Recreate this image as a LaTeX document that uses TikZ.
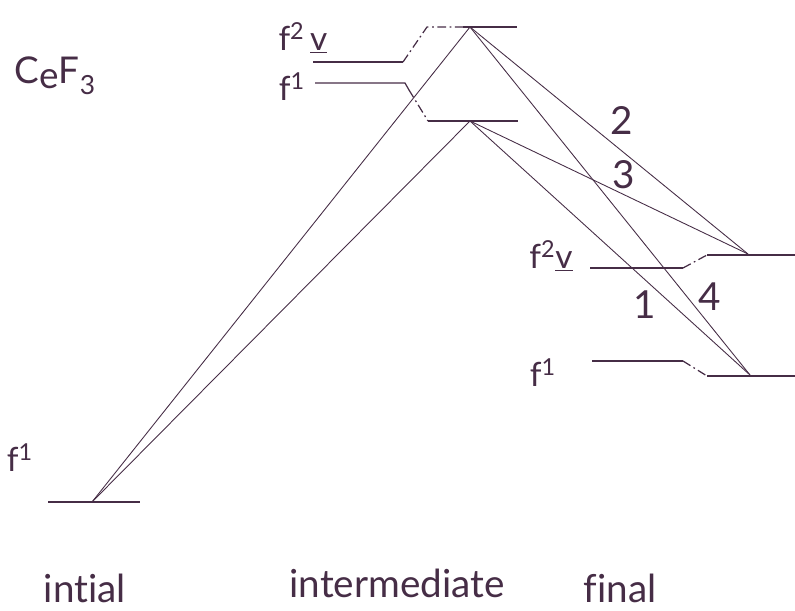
\documentclass[tikz,border=0pt]{standalone}
\usepackage{fontspec}
\setmainfont{Lato}[Ligatures=NoCommon]
\definecolor{ink}{RGB}{70,45,70}
\begin{document}
\begin{tikzpicture}[x=0.02cm,y=-0.02cm,
  lvl/.style={draw=ink,line width=0.7pt},
  shiftln/.style={draw=ink,line width=0.7pt,dash pattern=on 5pt off 2pt on 1pt off 2pt},
  tr/.style={draw=ink,line width=0.5pt},
  lab/.style={text=ink,font=\fontsize{19}{21}\selectfont,inner sep=0pt},
  num/.style={text=ink,font=\fontsize{22}{24}\selectfont,inner sep=0pt}]
\useasboundingbox (0,0) rectangle (795,611);
% level points
\coordinate (init) at (92,502);
\coordinate (intTop) at (470,27);
\coordinate (intLow) at (470,121);
\coordinate (finUp) at (748,254);
\coordinate (finLow) at (750,375);
% initial level
\draw[lvl] (48,502) -- (140,502);
% intermediate levels
\draw[lvl] (313,62) -- (403,62);
\draw[shiftln] (403,62) -- (427,27) -- (463,27);
\draw[lvl] (463,27) -- (517,27);
\draw[lvl] (315,83) -- (405,83) -- (409,90);
\draw[shiftln] (409,90) -- (428,121);
\draw[lvl] (428,121) -- (518,121);
% final levels
\draw[lvl] (590,268) -- (683,268);
\draw[shiftln] (683,268) -- (707,255);
\draw[lvl] (707,255) -- (795,255);
\draw[lvl] (592,361) -- (683,361);
\draw[shiftln] (683,361) -- (707,376);
\draw[lvl] (707,376) -- (795,376);
% transitions
\draw[tr] (init) -- (intTop);
\draw[tr] (init) -- (intLow);
\draw[tr] (intTop) -- (finUp);
\draw[tr] (intTop) -- (finLow);
\draw[tr] (intLow) -- (finUp);
\draw[tr] (intLow) -- (finLow);
% labels
\node[lab,font=\fontsize{21}{23}\selectfont] (cef) at (55,76) {C\raisebox{-0.12em}{e}F\raisebox{-0.3em}{\fontsize{15}{16}\selectfont 3}};
\node[lab] (fi) at (20,458) {f\textsuperscript{1}};
\node[lab] (fv1) at (303,38) {f\textsuperscript{2}\,\underline{v}};
\node[lab] (fm1) at (292,87) {f\textsuperscript{1}};
\node[lab] (fv2) at (551,256) {f\textsuperscript{2}\underline{v}};
\node[lab] (ff1) at (543,373) {f\textsuperscript{1}};
\node[num] (n2) at (622,120) {2};
\node[num] (n3) at (624,175) {3};
\node[num] (n1) at (645,305) {1};
\node[num] (n4) at (710,297) {4};
\node[num] (l1) at (85,588) {intial};
\node[num] (l2) at (397,583) {intermediate};
\node[num] (l3) at (620,588) {final};
\end{tikzpicture}
\end{document}
